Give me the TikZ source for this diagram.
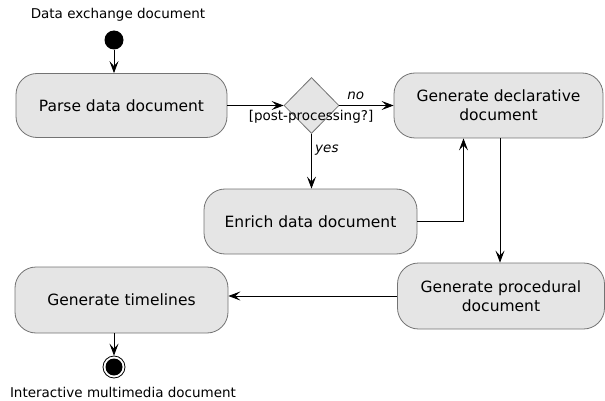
\documentclass[tikz,border=0pt]{standalone}
\usepackage{fontspec}
\setmainfont{DejaVu Sans}
\usetikzlibrary{shapes.geometric,arrows.meta}
\begin{document}
\begin{tikzpicture}[x=1pt,y=-1pt,
  activity/.style={draw=black!55, fill=black!10, rounded corners=21pt, line width=0.8pt,
    inner sep=0pt, align=center, font=\fontsize{15.5}{19}\selectfont},
  decision/.style={diamond, draw=black!55, fill=black!10, line width=0.8pt, inner sep=0pt,
    minimum width=55pt, minimum height=56pt},
  flow/.style={line width=0.8pt, -{Stealth[length=12pt,width=9pt,inset=5pt]}},
  caption/.style={font=\fontsize{13.5}{16}\selectfont},
  guard/.style={font=\fontsize{13.5}{16}\selectfont\itshape}]
\useasboundingbox (0,0) rectangle (605,401);

% initial and final states
\node[circle, fill=black, minimum size=19pt, inner sep=0pt] (start) at (114,40) {};
\node[caption] (startlbl) at (118,15) {Data exchange document};
\node[circle, draw=black, line width=0.8pt, minimum size=22pt, inner sep=0pt] (end) at (114,367) {};
\node[circle, fill=black, minimum size=17pt, inner sep=0pt] (endcore) at (114,367) {};
\node[caption] (endlbl) at (123,392) {Interactive multimedia document};

% activities
\node[activity, minimum width=211pt, minimum height=64pt] (parse) at (121.5,105.5) {Parse data document};
\node[decision] (post) at (311.5,105.5) {};
\node[caption] (postlbl) at (311,117) {[post-processing?]};
\node[activity, minimum width=209pt, minimum height=65pt] (decl) at (498.5,105.5) {Generate declarative\\document};
\node[activity, minimum width=213pt, minimum height=65pt] (enrich) at (310.5,221.5) {Enrich data document};
\node[activity, minimum width=207pt, minimum height=66pt] (proc) at (501,296) {Generate procedural\\document};
\node[activity, minimum width=213pt, minimum height=66pt] (time) at (121.5,300) {Generate timelines};

% control flow
\draw[flow] (start) -- (start |- parse.north);
\draw[flow] (parse.east) -- (post.west);
\draw[flow] (post.east) -- node[guard, above, pos=0.3, yshift=2pt] (nolbl) {no} (decl.west);
\draw[flow] (post.south) -- node[guard, right, pos=0.3] (yeslbl) {yes} (post.south |- enrich.north);
\draw[flow] (enrich.east) -| ([xshift=-35pt]decl.south);
\draw[flow] ([xshift=1.5pt]decl.south) -- ([xshift=1.5pt]decl.south |- proc.north);
\draw[flow] (proc.west) -- (proc.west -| time.east);
\draw[flow] (time.south -| end) -- (end.north);
\end{tikzpicture}
\end{document}
